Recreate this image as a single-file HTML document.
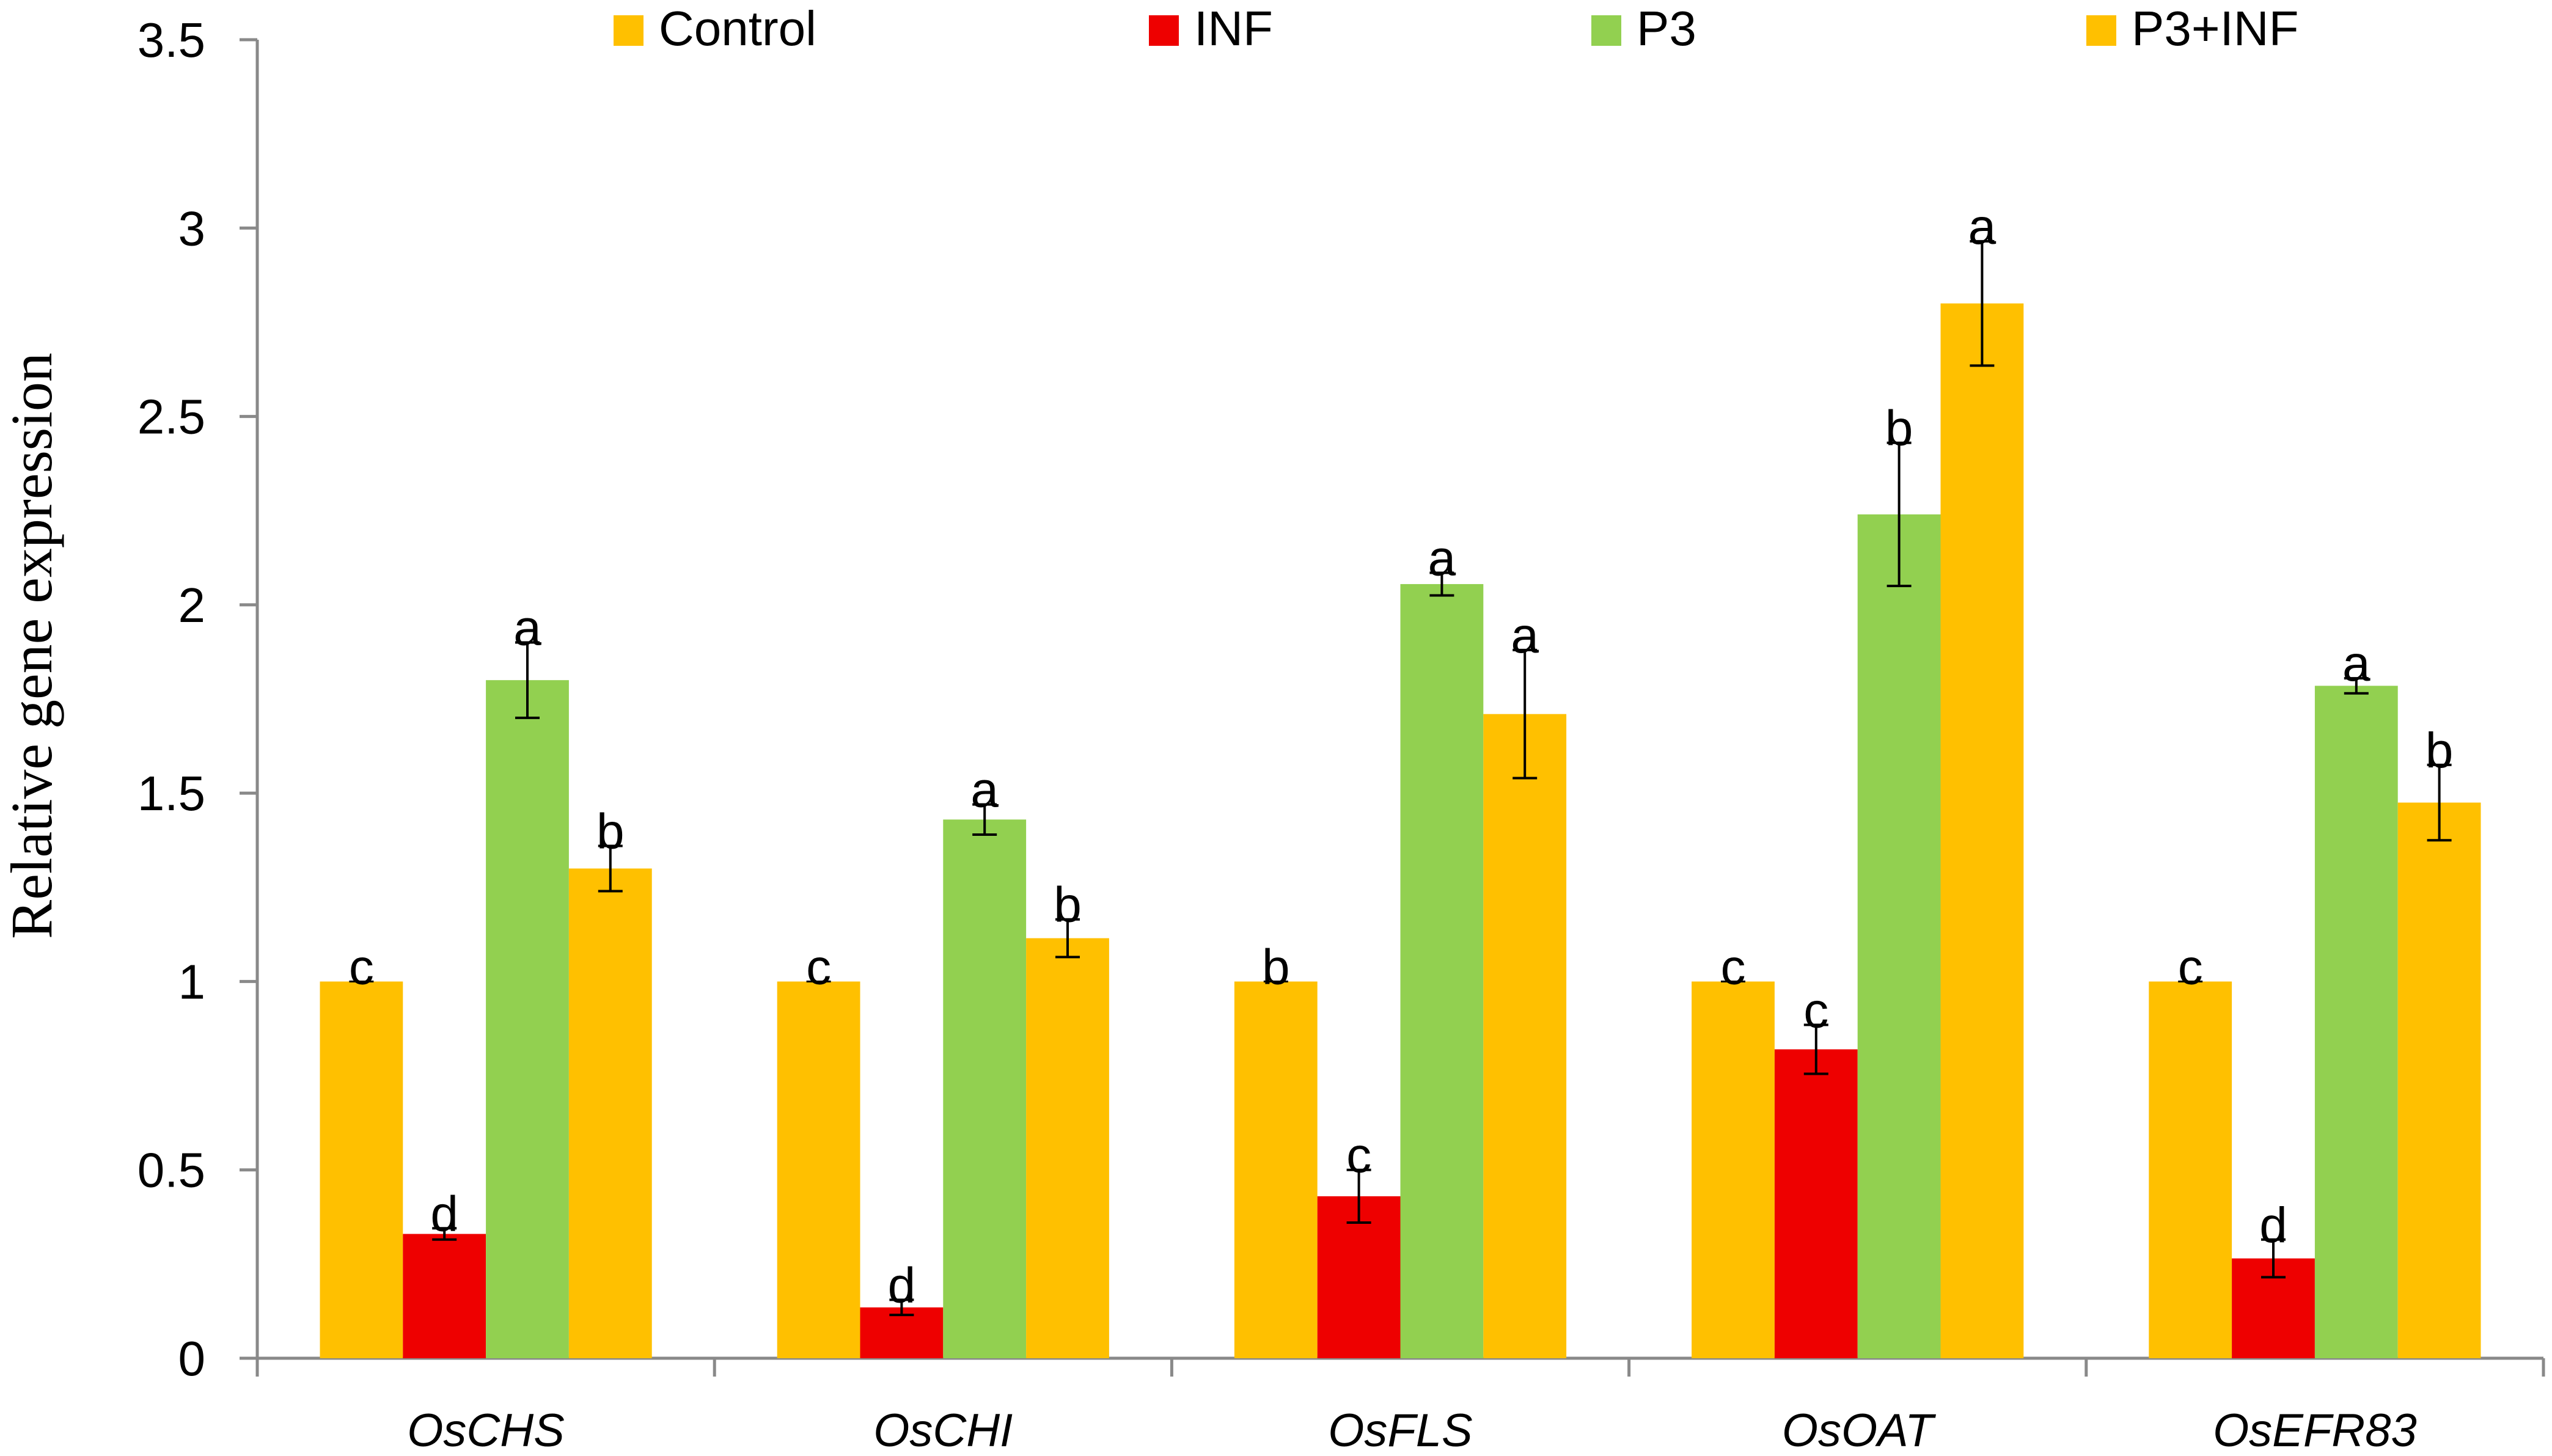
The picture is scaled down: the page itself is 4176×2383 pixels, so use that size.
<!DOCTYPE html>
<html><head><meta charset="utf-8"><style>
html,body{margin:0;padding:0;background:#fff;}
svg{display:block;}
</style></head><body>
<svg id="chart" width="4176" height="2383" viewBox="0 0 4176 2383" xmlns="http://www.w3.org/2000/svg" font-family="'Liberation Sans', sans-serif">
<g id="axes"></g>
<g id="bars"></g>
<g id="legend"></g>
<text transform="translate(84,1057) rotate(-90)" text-anchor="middle" font-family="'Liberation Serif', serif" font-size="96">Relative gene expression</text>
</svg>
<script>
const categories = ["OsCHS","OsCHI","OsFLS","OsOAT","OsEFR83"];
const seriesNames = ["Control","INF","P3","P3+INF"];
const seriesColors = ["#FFC000","#EE0000","#92D050","#FFC000"];
const controlVals = [1.0,1.0,1.0,1.0,1.0];
const infVals = [0.33,0.135,0.43,0.82,0.265];
const p3Vals = [1.80,1.43,2.055,2.24,1.785];
const p3infVals = [1.30,1.115,1.71,2.80,1.475];
const controlErr = [0,0,0,0,0];
const infErr = [0.015,0.02,0.07,0.065,0.05];
const p3Err = [0.10,0.04,0.03,0.19,0.02];
const p3infErr = [0.06,0.05,0.17,0.165,0.10];
const controlLetters = ["c","c","b","c","c"];
const infLetters = ["d","d","c","c","d"];
const p3Letters = ["a","a","a","b","a"];
const p3infLetters = ["b","b","a","a","b"];
const yTicks = [0,0.5,1,1.5,2,2.5,3,3.5];
const yTickLabels = ["0","0.5","1","1.5","2","2.5","3","3.5"];

const NS="http://www.w3.org/2000/svg";
const X0=421, X1=4162, Y0=2223, YTOP=65, YMAX=3.5;
const catW=(X1-X0)/categories.length;
const barW=catW*0.1815;
function y(v){return Y0-(Y0-YTOP)*v/YMAX;}
function xCat(i){return X0+catW*i+catW/2;}
function mk(tag,attrs,parent){const e=document.createElementNS(NS,tag);for(const k in attrs)e.setAttribute(k,attrs[k]);parent.appendChild(e);return e;}
const axes=document.getElementById('axes'), bars=document.getElementById('bars'), legend=document.getElementById('legend');

yTicks.forEach((t,i)=>{
  const tk=mk('line',{x1:X0-29,x2:X0,y1:y(t),y2:y(t),stroke:'#898989','stroke-width':5},axes);
  
  
  const lb=mk('text',{x:336,y:y(t)+28,'text-anchor':'end','font-size':80},axes);
  lb.textContent=yTickLabels[i];
  
  
});
const ya=mk('line',{x1:X0,x2:X0,y1:YTOP,y2:Y0,stroke:'#898989','stroke-width':5},axes);


const xa=mk('line',{x1:X0-29,x2:X1,y1:Y0,y2:Y0,stroke:'#898989','stroke-width':5},axes);


for(let i=0;i<=categories.length;i++){
  const t=mk('line',{x1:X0+catW*i,x2:X0+catW*i,y1:Y0,y2:Y0+30,stroke:'#898989','stroke-width':5},axes);
  
  
}
categories.forEach((c,i)=>{
  const t=mk('text',{x:xCat(i),y:2367,'text-anchor':'middle','font-size':76,'font-style':'italic'},axes);
  t.textContent=c;
  
  
});

const vals=[controlVals,infVals,p3Vals,p3infVals];
const errs=[controlErr,infErr,p3Err,p3infErr];
const lets=[controlLetters,infLetters,p3Letters,p3infLetters];
categories.forEach((c,i)=>{
  for(let s=0;s<4;s++){
    const v=vals[s][i], e=errs[s][i];
    const bx=xCat(i)-2*barW+s*barW;
    const r=mk('rect',{x:bx,y:y(v),width:barW,height:Y0-y(v),fill:seriesColors[s]},bars);
    
    
    const cx=bx+barW/2;
    if(e>0){
      const eb=mk('path',{d:`M${cx},${y(v+e)}V${y(v-e)}M${cx-20},${y(v+e)}H${cx+20}M${cx-20},${y(v-e)}H${cx+20}`,stroke:'#000','stroke-width':4,fill:'none'},bars);
      
      
    } else {
      const eb=mk('line',{x1:cx-20,x2:cx+20,y1:y(v),y2:y(v),stroke:'#000','stroke-width':3},bars);
      
      
    }
    const lt=mk('text',{x:cx,y:y(v+e)+4,'text-anchor':'middle','font-size':82},bars);
    lt.textContent=lets[s][i];
    
    
  }
});

const legX=[1004,1880,2604,3414];
seriesNames.forEach((n,s)=>{
  const b=mk('rect',{x:legX[s],y:25,width:49,height:50,fill:seriesColors[s]},legend);
  
  
  const t=mk('text',{x:legX[s]+74,y:74,'font-size':80},legend);
  t.textContent=n;
  
  
});
</script>
</body></html>
